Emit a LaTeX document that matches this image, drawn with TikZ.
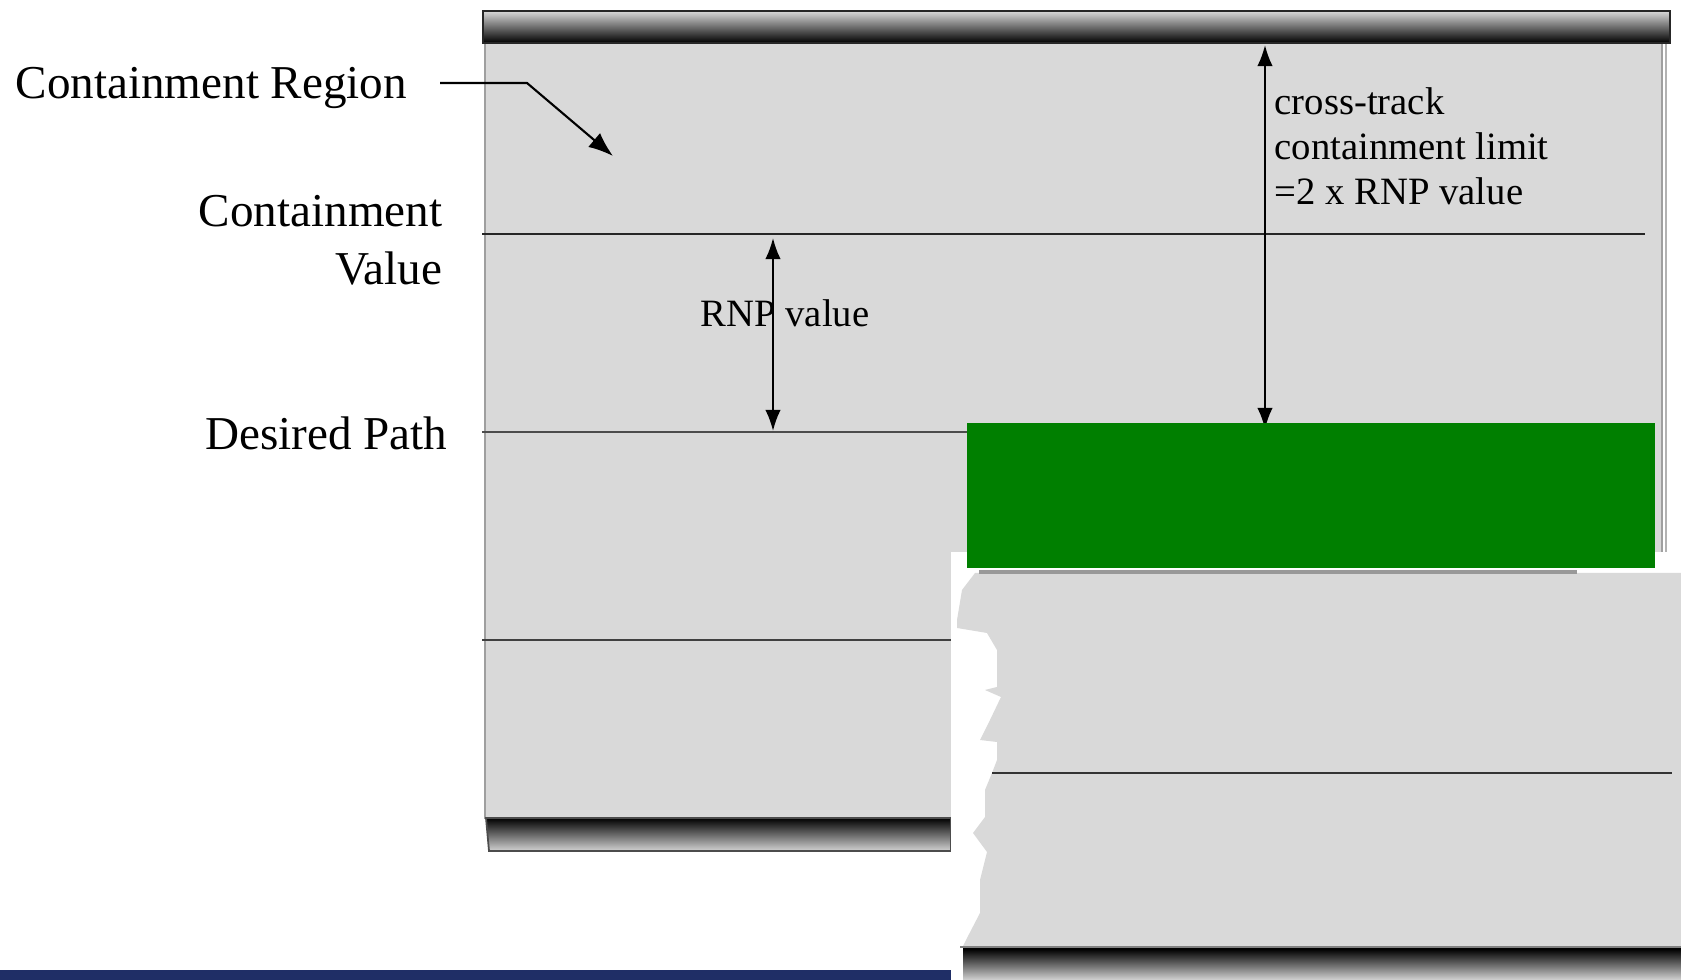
\documentclass[tikz,border=0pt]{standalone}
\usepackage{fontspec}
\setmainfont{Liberation Serif}
\usepackage{tikz}
\usetikzlibrary{arrows.meta}
\definecolor{boxgray}{RGB}{217,217,217}
\definecolor{maskgreen}{RGB}{0,127,0}
\definecolor{slideblue}{RGB}{31,46,102}

\begin{document}
\begin{tikzpicture}[x=0.01cm, y=-0.01cm,
    lbl/.style={font=\fontsize{13.4}{16.5}\selectfont, inner sep=0pt},
    note/.style={font=\fontsize{11}{12.8}\selectfont, inner sep=0pt, align=left},
    rule/.style={line width=0.7pt, black!85},
    dim/.style={<->, line width=0.6pt, >={Latex[length=6pt,width=4.4pt]}},
    ptr/.style={->, line width=0.6pt, >={Latex[length=7pt,width=5.2pt]}},
    topbar/.style={top color=gray!30, bottom color=black, draw=black!85, line width=0.6pt},
    lowbar/.style={top color=black, bottom color=gray!35, draw=black!70, line width=0.5pt}]

%% Frame of the picture
\useasboundingbox[fill=white] (0,0) rectangle (1681,980);

%% Containment box
\draw[fill=boxgray, draw=gray!75, line width=0.8pt] (485,43) rectangle (1662,818);
\draw[gray!60, line width=0.8pt] (1666,43) -- (1666,552);
\draw[topbar] (483,11) rectangle (1670,43);
\draw[lowbar] (486,818) -- (951,818) -- (951,851) -- (489,851) -- cycle;

%% Horizontal limits
\draw[rule] (482,234) -- (1645,234);
\draw[rule, black!70] (482,432) -- (1645,432);
\draw[rule, black!75] (482,640) -- (1645,640);

%% Left labels
\node[lbl, anchor=base west] (region) at (15,99) {Containment Region};
\node[lbl, anchor=north east, align=right] (contval) at (443,195) {Containment\\Value};
\node[lbl, anchor=base east] (path) at (448,450) {Desired Path};

%% Leader to the region
\coordinate (regFrom) at (440,83);
\coordinate (regBend) at (527,83);
\coordinate (regTip) at (613,156);
\draw[ptr] (regFrom) -- (regBend) -- (regTip);

%% RNP value
\coordinate (rnpTop) at (773,238);
\coordinate (rnpBot) at (773,431);
\draw[dim] (rnpTop) -- (rnpBot);
\node[note, anchor=base west] (rnp) at (700,327) {RNP value};

%% Cross-track limit
\coordinate (xtTop) at (1265,45);
\coordinate (xtBot) at (1265,429);
\draw[dim] (xtTop) -- (xtBot);
\node[note, anchor=north west] (xtrack) at (1274,87)
    {cross-track\\containment limit\\=2 x RNP value};

%% Pasted lower panel
\fill[white] (951,552) rectangle (1681,980);
\fill[boxgray] (975,573) -- (1681,573) -- (1681,948) -- (962,948) -- (966,940)
    -- (980,913) -- (980,880) -- (987,852) -- (973,833) -- (985,817) -- (985,790)
    -- (992,773) -- (997,760) -- (997,742) -- (980,740) -- (990,720) -- (1001,697)
    -- (985,690) -- (997,687) -- (997,650) -- (987,633) -- (957,628) -- (957,620)
    -- (962,590) -- cycle;
\draw[gray!80, line width=1pt] (979,572) -- (1577,572);
\draw[rule, black!80] (992,773) -- (1672,773);
\draw[gray, line width=0.6pt] (960,947) -- (1681,947);
\draw[lowbar, draw=none] (963,949) rectangle (1681,980);

%% Masks
\fill[maskgreen] (967,423) rectangle (1655,568);
\fill[slideblue] (0,970) rectangle (951,980);

\end{tikzpicture}
\end{document}
